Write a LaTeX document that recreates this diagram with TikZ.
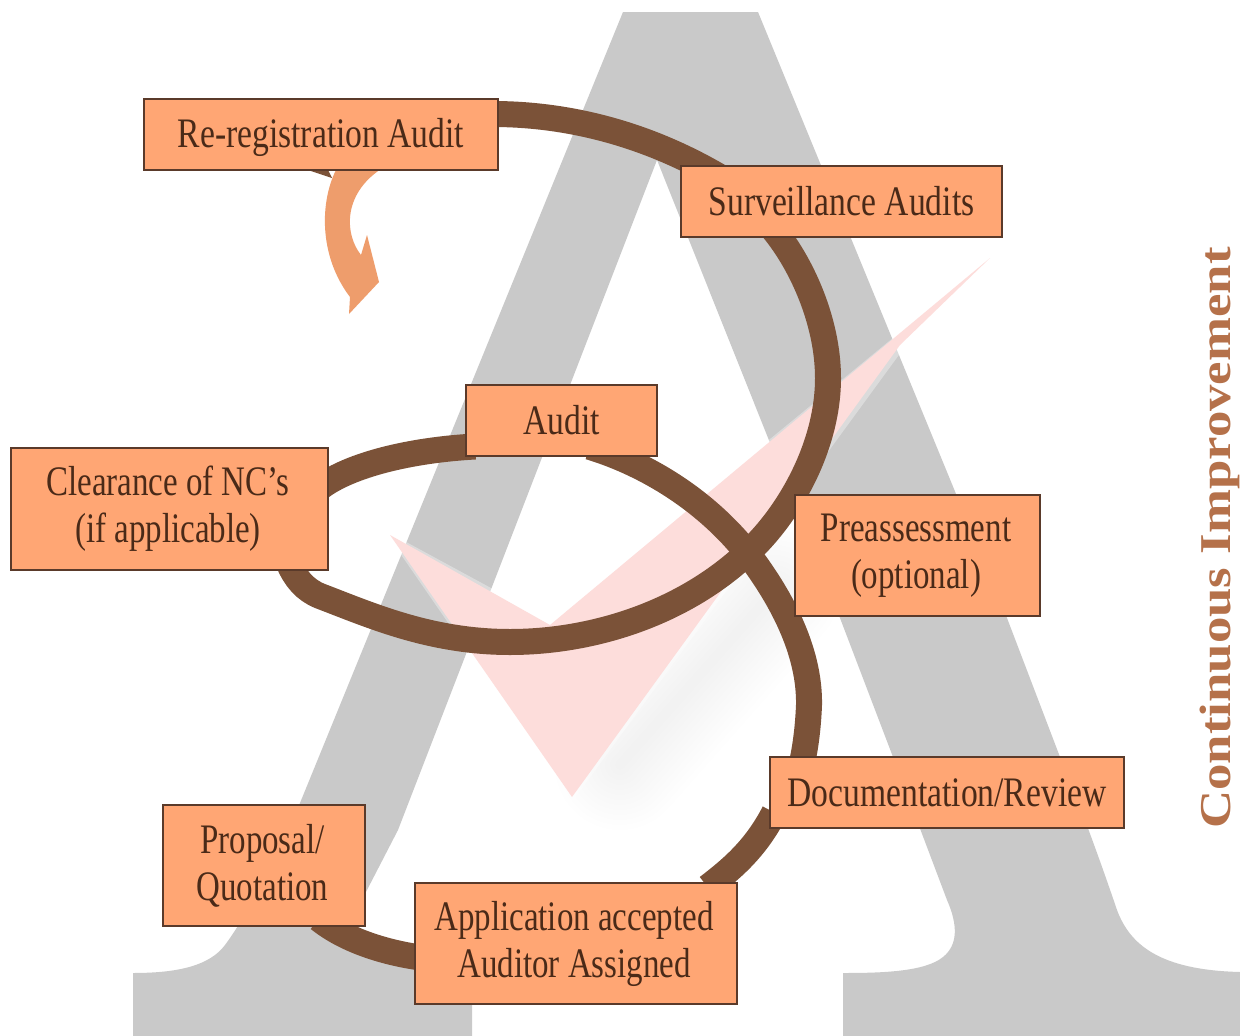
\documentclass[tikz,border=0pt]{standalone}
\usepackage{fontspec}
\usetikzlibrary{backgrounds,calc}
\newfontfamily\boxfont[FakeStretch=0.8]{Liberation Serif}
\newfontfamily\tightfont[FakeStretch=0.785]{Liberation Serif}
\newfontfamily\sidefont[FakeStretch=1.2]{Liberation Serif}
\definecolor{agray}{HTML}{C9C9C9}
\definecolor{ringbrown}{HTML}{7B5238}
\definecolor{boxfill}{HTML}{FFA674}
\definecolor{boxline}{HTML}{5A3A2A}
\definecolor{boxtext}{HTML}{4A2A18}
\definecolor{checkpink}{HTML}{FDDDDB}
\definecolor{arroworange}{HTML}{EE9D6C}
\definecolor{sidetext}{HTML}{B5714A}
\tikzset{
  stagebox/.style={draw=boxline,fill=boxfill,line width=1.5pt,inner sep=0pt,align=center,
    text=boxtext,font=\boxfont\fontsize{42}{47}\selectfont},
  ring/.style={draw=ringbrown,line width=26pt,line cap=butt,line join=round}
}
\begin{document}
\begin{tikzpicture}[x=1pt,y=-1pt]
\useasboundingbox (0,0) rectangle (1240,1036);
\node[stagebox,minimum width=354pt,minimum height=71pt] (rereg) at (321,134.5) {\raisebox{0pt}[29pt][4pt]{Re-registration Audit}};
\node[stagebox,minimum width=321pt,minimum height=71pt] (surv) at (841.5,201.5) {Surveillance Audits};
\node[stagebox,minimum width=191pt,minimum height=71pt] (audit) at (561.5,420.5) {Audit};
\node[stagebox,minimum width=317pt,minimum height=122pt] (clear) at (169.5,509) {\tightfont Clearance of NC’s\hspace*{3pt}\\\tightfont (if applicable)\hspace*{3pt}};
\node[stagebox,minimum width=245pt,minimum height=121pt] (pre) at (917.5,555.5) {\tightfont Preassessment\hspace*{3pt}\\\tightfont (optional)\hspace*{3pt}};
\node[stagebox,minimum width=354pt,minimum height=71pt] (doc) at (947,792.5) {Documentation/Review};
\node[stagebox,minimum width=202pt,minimum height=121pt] (prop) at (264,865.5) {\tightfont Proposal/\hspace*{3pt}\\\tightfont Quotation\hspace*{3pt}};
\node[stagebox,minimum width=322pt,minimum height=121pt] (app) at (576,943.5) {\tightfont Application accepted\hspace*{4pt}\\\tightfont Auditor Assigned\hspace*{4pt}};
\node[rotate=90,text=sidetext,font=\sidefont\bfseries\fontsize{44}{44}\selectfont,inner sep=0pt] (side) at (1220,538) {Continuous Improvement};
\begin{pgfonlayer}{background}
  % letter A
  \fill[white] (0,0) rectangle (1240,1036);
  \fill[agray] (623,12) -- (758,12) -- (1007,618) -- (1060,757)
    .. controls (1080,805) and (1100,860) .. (1117,910)
    .. controls (1130,945) and (1160,970) .. (1240,972)
    -- (1240,1036) -- (843,1036) -- (843,973)
    .. controls (880,973) and (925,972) .. (943,957)
    .. controls (958,945) and (958,925) .. (947,900)
    -- (893,757) -- (840,618) -- (657,160) -- (398,830) -- (367,890)
    .. controls (345,930) and (360,948) .. (415,950)
    -- (472,955)
    -- (472,1036) -- (133,1036) -- (133,973)
    .. controls (180,973) and (210,965) .. (225,945)
    .. controls (240,925) and (270,875) .. (300,803) -- cycle;
  % soft shadow and tick
  \foreach \w in {10,20,...,130} {
    \draw[black,opacity=0.005,line width=\w pt,line cap=round] (620,765) -- (775,590);
  }
  \fill[white,opacity=.35] (384,530) -- (550,620) -- (995,254) -- (904,348) -- (572,802) -- cycle;
  \fill[checkpink] (390,535) -- (550,625) -- (990,258) -- (900,345) -- (572,797) -- cycle;
  % rings
  \draw[ring] ([xshift=-6pt,yshift=20.5pt]rereg.east) .. controls (560,114) and (640,130) .. ([xshift=40pt,yshift=-12pt]surv.north west);
  \draw[ring] ([xshift=90pt,yshift=12pt]surv.south west) .. controls (800,260) and (828,320) .. (828,378)
     .. controls (828,450) and (785,520) .. (745,555)
     .. controls (680,615) and (590,642) .. (510,642)
     .. controls (430,642) and (370,615) .. (320,596)
     .. controls (305,590) and (295,578) .. ([xshift=-40pt,yshift=8pt]clear.south east);
  \draw[ring] ([xshift=-8pt,yshift=22pt]clear.east) .. controls (350,465) and (410,450) .. ([xshift=10pt,yshift=-26pt]audit.west);
  \draw[ring] ([xshift=28pt,yshift=10pt]audit.south) .. controls (640,462) and (700,495) .. (745,550)
     .. controls (780,595) and (810,650) .. (809,705)
     .. controls (808,730) and (805,750) .. ([xshift=32pt,yshift=-10pt]doc.north west);
  \draw[ring] ([xshift=5pt,yshift=-20pt]doc.west) .. controls (755,850) and (730,870) .. ([xshift=-30pt,yshift=-5pt]app.north east);
  \draw[ring] ([xshift=-47pt,yshift=8pt]prop.south east) .. controls (345,940) and (385,953) .. ([xshift=10pt,yshift=-14.5pt]app.west);
  % tail behind the first box
  \fill[ringbrown] (308,170) -- (332,178) -- (327,168) -- cycle;
  % curved arrow
  \fill[arroworange] (337,168) .. controls (320,200) and (318,255) .. (350,297)
    -- (349,314) -- (379,282) -- (367,235) -- (361,255)
    .. controls (345,235) and (342,195) .. (381,169) -- cycle;
\end{pgfonlayer}
\end{tikzpicture}
\end{document}
